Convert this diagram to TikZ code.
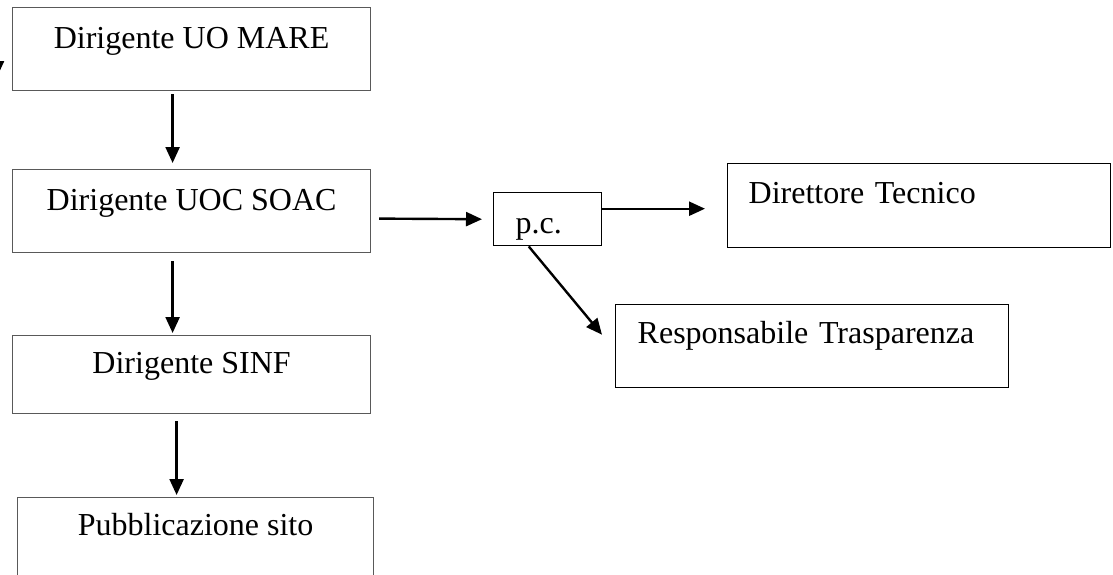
\documentclass[tikz,border=0pt]{standalone}
\usepackage{fontspec}
\setmainfont{Liberation Serif}
\usetikzlibrary{arrows.meta,calc}
\begin{document}
\begin{tikzpicture}[x=1pt,y=-1pt,
  box/.style={draw=black!65,line width=1.2pt,rectangle,anchor=north west,inner xsep=0pt,inner ysep=0pt,
    font=\fontsize{32}{36}\selectfont},
  lbox/.style={draw=black,line width=1.4pt,rectangle,anchor=north west,inner ysep=0pt,align=left,
    font=\fontsize{32}{36}\selectfont},
  arr/.style={line width=2.4pt,-{Triangle[length=16pt,width=14pt]}}]
\useasboundingbox (0,0) rectangle (1113,574);
\node[box,minimum width=358pt,text height=41pt,text depth=42pt] (b1) at (12,7) {Dirigente UO MARE};
\node[box,minimum width=358pt,text height=41pt,text depth=42pt] (b2) at (12,169) {Dirigente UOC SOAC};
\node[box,minimum width=358pt,text height=38pt,text depth=40pt] (b3) at (12,335) {Dirigente SINF};
\node[box,minimum width=356pt,text height=38pt,text depth=65pt] (b4) at (17,497) {Pubblicazione sito};
\node[lbox,inner xsep=22pt,text width=64pt,text height=41pt,text depth=12pt] (pc) at (493,192) {p.c.};
\node[lbox,inner xsep=21pt,text width=341pt,text height=40pt,text depth=44pt] (dt) at (727,163) {Direttore Tecnico};
\node[lbox,inner xsep=22pt,text width=349pt,text height=39pt,text depth=44pt] (rt) at (615,304) {Responsabile Trasparenza};
\coordinate (ext) at (-3,0);
\draw[arr] (ext) -- (-3,77);
\draw[arr] ($(b1.south)+(-19,3)$) -- ($(b2.north)+(-19,-6)$);
\draw[arr] ($(b2.south)+(-19,8)$) -- ($(b3.north)+(-19,-2)$);
\draw[arr] ($(b3.south)+(-15,7)$) -- ($(b4.north)+(-19,-2)$);
\draw[arr] ($(b2.east)+(8,7.5)$) -- ($(pc.west)+(-11,0)$);
\draw[arr] ($(pc.east)+(0,-10.5)$) -- ($(dt.west)+(-22,3)$);
\draw[arr] ($(pc.south)+(-19,0)$) -- ($(rt.west)+(-13,-11.5)$);
\end{tikzpicture}
\end{document}
